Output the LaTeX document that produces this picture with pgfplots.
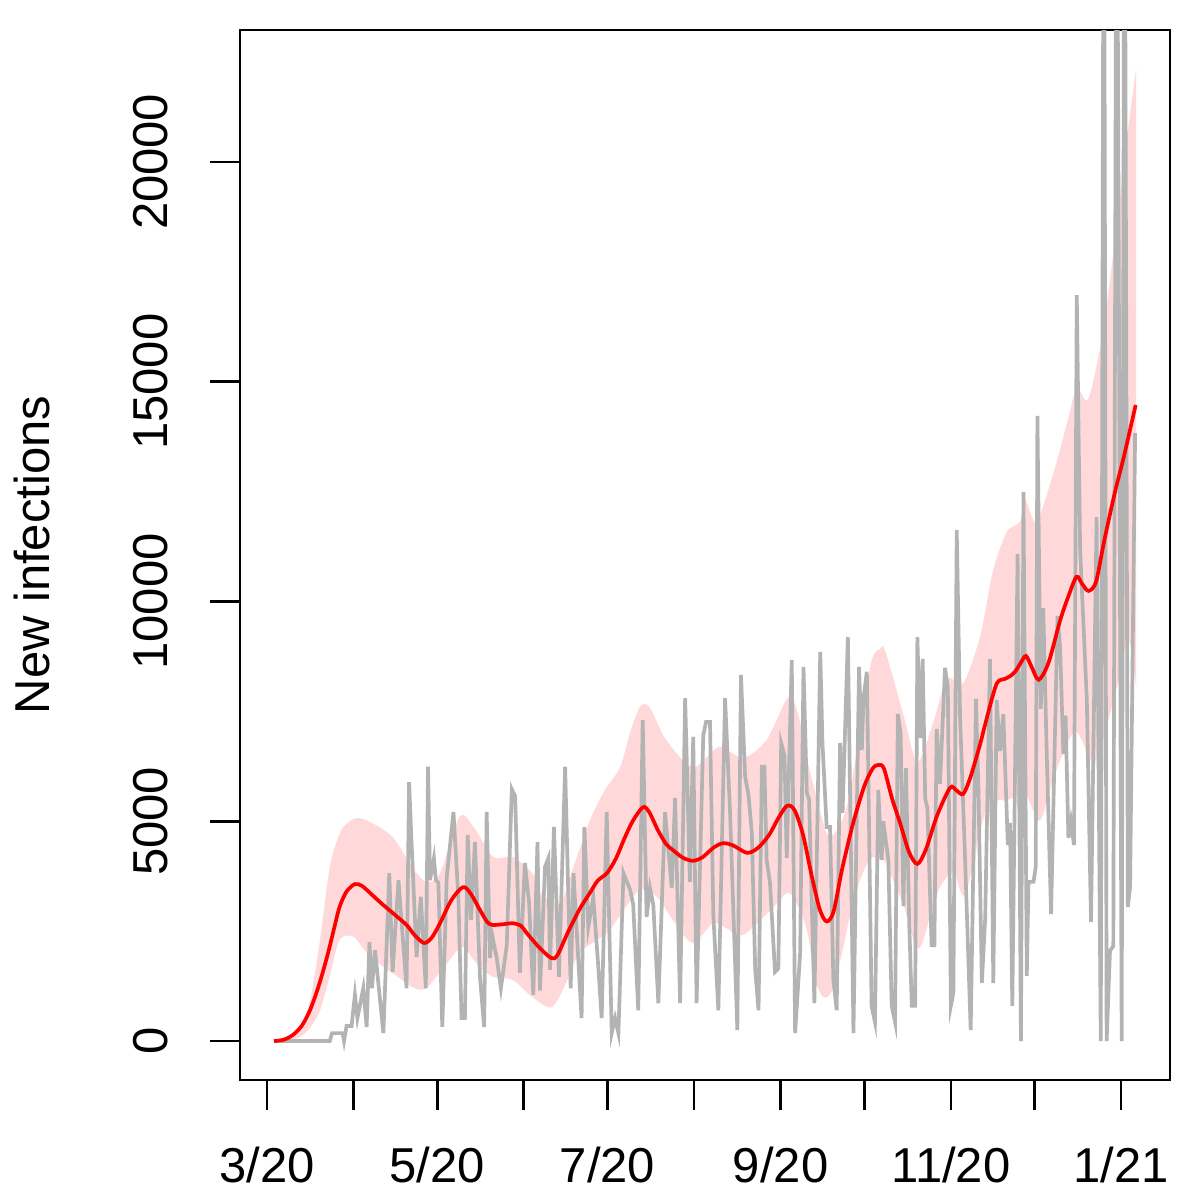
\documentclass[border=0pt]{standalone}
\usepackage{pgfplots}
\pgfplotsset{compat=1.18}
\usepgfplotslibrary{fillbetween}
\usepackage{fontspec}
\setmainfont{Liberation Sans}
\definecolor{obsgray}{RGB}{179,179,179}
\newcommand{\chartfont}{\fontsize{13.94}{16.7}\selectfont}
\begin{document}
\begin{tikzpicture}[font=\chartfont]
\begin{axis}[
  name=ax,
  scale only axis,
  width=93mm, height=105mm,
  xmin=-9.67, xmax=323.5,
  ymin=-887, ymax=23000,
  axis line style={black, line width=0.75pt},
  tick style={black, line width=0.75pt},
  tick align=outside,
  major tick length=3mm,
  xtick pos=bottom, ytick pos=left,
  scaled y ticks=false, scaled x ticks=false,
  xtick={0,31,61,92,122,153,184,214,245,275,306},
  xticklabels={3/20,,5/20,,7/20,,9/20,,11/20,,1/21},
  ytick={0,5000,10000,15000,20000},
  yticklabels={0,5000,10000,15000,20000},
  tick label style={font=\chartfont},
  xticklabel style={yshift=-2.5mm},
  yticklabel style={rotate=90, anchor=south, yshift=3mm},
  label style={font=\chartfont},
  ylabel={New infections},
  every axis y label/.style={at={(rel axis cs:0,0.5)}, anchor=center, rotate=90, yshift=20.8mm},
  clip=true,
]
% observed daily infections (gray)
\addplot[obsgray, line width=1.05pt] coordinates {
(3,0) (22.5,0) (23.3,180) (27.1,180) (27.6,0) (28.5,340) (30.3,340) (31.5,1050) (32.4,520) (34.5,1200)
(35.7,320) (36.7,2250) (37.6,1200) (38.7,2070) (41.7,180) (43.8,3820) (45,1570) (47.1,3660) (50,1200) (50.9,5890)
(51.8,4500) (53.6,1910) (55.1,3280) (56.9,1200) (57.7,6240) (58.4,3660) (59.8,4160) (60.5,3660) (61.4,3600) (62.8,320)
(64.4,3730) (66.8,5210) (68.6,3200) (69.7,520) (70.9,520) (71.9,4690) (73.1,2750) (74.5,4530) (76.3,1460) (77.8,320)
(78.7,5210) (79.9,1890) (80.5,2460) (82.3,1890) (83.8,1200) (85.9,2180) (87.7,5730) (88.9,5570) (90.6,1550) (92.4,4050)
(93.9,3140) (95.4,1050) (96.9,4530) (97.8,1150) (99.6,3960) (100.8,4160) (101.4,1620) (102.8,4870) (104.6,1460) (106.8,6240)
(108.8,1200) (109.8,3820) (112.7,520) (113.7,4870) (115.1,2590) (116.9,3280) (118.7,1680) (119.9,520) (121.7,5210) (123.5,180)
(124.7,520) (125.9,180) (127.7,3820) (130.1,3440) (131.2,3100) (133,700) (134.6,7300) (136,2820) (137.2,3480) (138.4,3100)
(140.2,860) (142.6,5210) (145,3480) (146.2,5530) (148,860) (149.8,7800) (151.5,3620) (152.7,6920) (153.9,860) (156.3,6960)
(157.3,7260) (158.7,7260) (159.9,2870) (161.7,700) (164.1,7800) (165.9,5190) (168.5,250) (169.8,8330) (171.3,6010) (172.5,5600)
(173.7,4730) (174.9,1620) (176.1,700) (177.3,6240) (178.2,6240) (179,4120) (180.2,3600) (182,1570) (183.2,1650) (184.2,6780)
(185.4,6500) (186.2,4160) (188,8670) (189.2,180) (191,2000) (192.2,8510) (193.4,5640) (194.2,5500) (196.1,860) (198.2,8850)
(199,6780) (200.5,4870) (201.7,4870) (202.9,1390) (204.1,700) (205.3,6780) (206.2,5190) (208.1,9190) (210.1,180) (212.1,8510)
(213.1,6620) (213.7,7800) (214.9,8400) (216.6,790) (217.8,430) (219,5710) (220.2,4120) (220.8,5000) (222.6,4120) (223.8,800)
(225,430) (226,7440) (227,7000) (228,3070) (228.9,6210) (230.1,2640) (231,800) (232.2,800) (233,9190) (234,6890)
(234.9,8690) (235.8,5510) (236.6,5300) (238.1,2180) (239.1,2180) (239.9,7100) (241.1,5850) (242.9,8490) (243.9,8050) (245,800)
(245.9,1090) (247.1,11620) (248.3,7370) (250.1,4120) (252.1,250) (254,7780) (254.9,5660) (256.1,1320) (257.3,2800) (259,8690)
(260.2,1320) (261.4,7760) (262.6,6600) (263.8,7440) (265.4,4460) (266.2,4960) (267,800) (268.9,11080) (270.1,0) (271,12490)
(272.2,1480) (272.8,3620) (274.6,3620) (275.4,3960) (276,14220) (277.2,7550) (278.1,9850) (279.3,6640) (280.9,2890) (283.2,9670)
(284.1,9000) (285.3,6530) (286.1,7400) (287.1,4620) (288,5000) (289.1,4460) (290.1,16970) (291.3,11190) (293.7,7760) (295.2,2710)
(297.2,11920) (298.7,0) (299.8,30000) (300.8,0) (302,2050) (303.2,2160) (304.4,30000) (306.2,0) (307.2,30000) (308.4,3050)
(309.2,3500) (311,13830)
};
% credible band
\addplot[name path=U, draw=none, forget plot, smooth, tension=0.5] coordinates {
(3,0) (8,60) (12,300) (15.4,900) (19,2300) (22.6,4000) (26,4700) (28,4910) (32,5070) (37,4980)
(45,4640) (52,3960) (57,3620) (62,3820) (69,5100) (74,4870) (81,4190) (88,4190) (95,3820) (98,3370)
(105,3140) (110,4000) (115.7,5030) (121,5700) (126.5,6230) (130,7000) (133.6,7600) (137,7600) (143,6850) (152.6,6230)
(162,6690) (170.5,6440) (179,6850) (186.5,7800) (190,7500) (193.5,6400) (197.5,5400) (200.5,4730) (203.5,4730) (208,5400)
(213,7300) (216.7,8670) (219.6,8920) (221.5,8870) (228,7420) (233,6350) (238.6,7230) (243.6,8240) (249.4,8140) (255.5,9210)
(260,10670) (265,11580) (269.8,11810) (271.6,12320) (275.7,11810) (282.3,13040) (286.6,14060) (290.1,14840) (294.3,14620) (299.6,16200)
(304.5,18590) (308,20500) (311.4,22140)
};
\addplot[name path=L, draw=none, forget plot, smooth, tension=0.5] coordinates {
(3,0) (8,20) (12,100) (15.4,300) (19,700) (22.6,1500) (26,2300) (31,2370) (37,1910) (45,1550)
(52,1230) (57,1200) (64.5,1770) (70,2140) (75,1770) (81,1460) (88,1390) (95,1000) (102,770) (107,1300)
(112,2000) (121.8,2460) (127,2900) (133.6,3440) (139.7,3280) (146,2700) (152.6,2230) (159.8,2680) (165,2550) (170.5,2410)
(180,2950) (186.5,3370) (190,3100) (193.5,2500) (196.5,1400) (199.3,1000) (202.5,1150) (206,2000) (210.5,3300) (216,4140)
(220.8,4120) (223.2,3820) (228,3100) (233.5,2100) (239.9,3340) (245.9,3850) (250.1,3340) (257.9,5300) (265,5480) (269.8,5600)
(271.6,5690) (276.9,5020) (282.3,6080) (289.5,7040) (296.6,6370) (303.8,7880) (308.6,9120) (311.4,8010)
};
\addplot[fill=red, fill opacity=0.15, draw=none, forget plot] fill between[of=U and L];
% smoothed estimate (red)
\addplot[red, line width=1.05pt, smooth, tension=0.5] coordinates {
(2.5,0) (6,30) (9.3,140) (12.5,350) (15.4,700) (18.5,1250) (21.5,1910) (24,2550) (26,3050) (28.5,3400)
(31.5,3570) (34,3530) (36.9,3370) (41,3130) (45.1,2910) (50,2640) (53,2400) (56.3,2230) (59,2350) (62,2680)
(66,3200) (70.2,3500) (73,3350) (76.3,2980) (79,2700) (81,2640) (85,2660) (88,2680) (91,2620) (93,2460)
(97.5,2130) (101.8,1890) (104,1950) (108,2500) (112,3000) (115.7,3370) (118.5,3650) (121.8,3820) (125,4150) (128,4600)
(131,5000) (134.7,5320) (137,5200) (140,4800) (143,4480) (145.5,4340) (149,4170) (152.6,4100) (156,4180) (160,4400)
(163.4,4500) (167,4450) (172,4280) (176,4400) (180,4700) (183,5050) (186.3,5350) (189,5250) (192,4700) (195,3800)
(198,3000) (200.5,2720) (203,2950) (206,3900) (210,4960) (214,5800) (217,6200) (219,6280) (221,6200) (224,5500)
(226.8,4960) (230,4300) (233,4030) (236,4350) (240,5120) (244.7,5760) (247,5700) (249.4,5620) (252,6000) (255.5,6760)
(258.5,7500) (261.5,8140) (264.4,8240) (266.2,8300) (268,8400) (270,8600) (271.9,8760) (274,8500) (276.5,8220) (280,8610)
(284.1,9560) (287,10100) (290,10560) (292,10400) (294.3,10240) (297,10450) (300,11400) (303.8,12490) (307,13300) (311.2,14470)
};
\end{axis}
\pgfresetboundingbox
\useasboundingbox ([shift={(-24mm,-12mm)}]ax.south west) rectangle ([shift={(3mm,3mm)}]ax.north east);
\end{tikzpicture}
\end{document}
